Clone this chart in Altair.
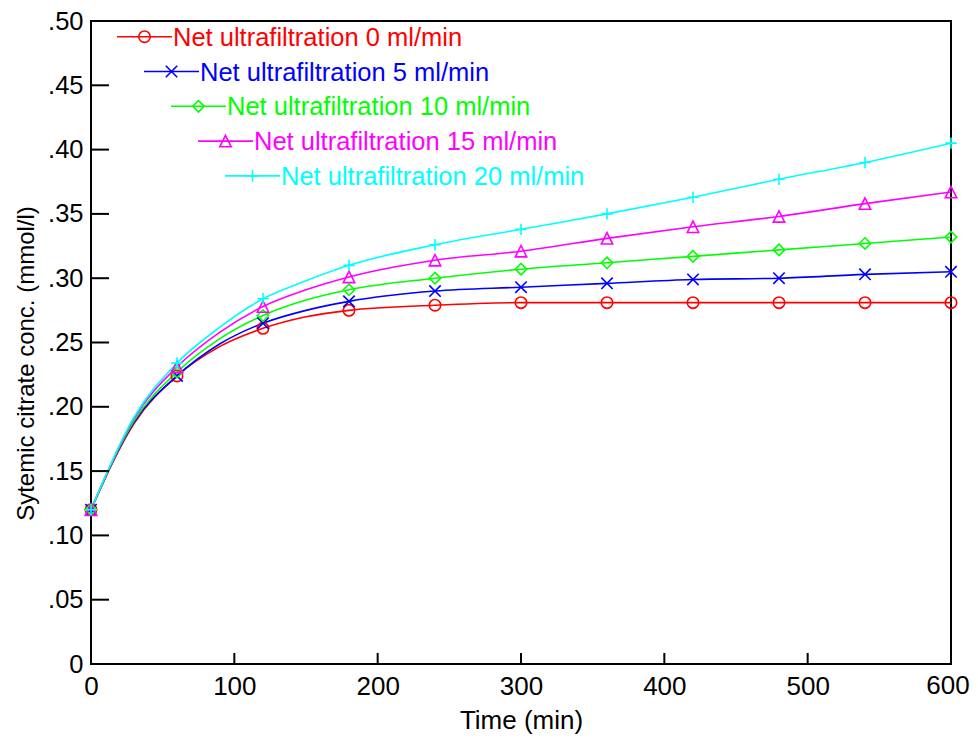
import altair as alt
import pandas as pd

# ---- data ----
time = [0, 30, 60, 90, 120, 150, 180, 240, 300, 360, 420, 480, 540, 600]
uf0 = [0.120, 0.187, 0.224, 0.247, 0.261, 0.270, 0.275, 0.279, 0.281, 0.281, 0.281, 0.281, 0.281, 0.281]
uf5 = [0.120, 0.188, 0.224, 0.249, 0.265, 0.275, 0.282, 0.290, 0.293, 0.296, 0.299, 0.300, 0.303, 0.305]
uf10 = [0.120, 0.189, 0.227, 0.253, 0.271, 0.283, 0.291, 0.300, 0.307, 0.312, 0.317, 0.322, 0.327, 0.332]
uf15 = [0.120, 0.191, 0.231, 0.258, 0.278, 0.291, 0.301, 0.314, 0.321, 0.331, 0.340, 0.348, 0.358, 0.367]
uf20 = [0.120, 0.192, 0.234, 0.262, 0.284, 0.298, 0.310, 0.326, 0.338, 0.350, 0.363, 0.377, 0.390, 0.405]

labels = [
    "Net ultrafiltration 0 ml/min",
    "Net ultrafiltration 5 ml/min",
    "Net ultrafiltration 10 ml/min",
    "Net ultrafiltration 15 ml/min",
    "Net ultrafiltration 20 ml/min",
]
series_values = [uf0, uf5, uf10, uf15, uf20]
colors = ["#FF0000", "#0000FF", "#00FF00", "#FF00FF", "#00FFFF"]
shapes = ["circle", "M-1,-1L1,1M-1,1L1,-1", "diamond", "M0,-1L1,1L-1,1Z", "M-1,0L1,0M0,-1L0,1"]
sizes = [130, 130, 210, 95, 130]

x_ticks = [0, 100, 200, 300, 400, 500, 600]
y_ticks = [0, 0.05, 0.10, 0.15, 0.20, 0.25, 0.30, 0.35, 0.40, 0.45, 0.50]

W, H = 860, 643
FONT = "Liberation Sans"

rows = []
for lab, vals in zip(labels, series_values):
    for t, v in zip(time, vals):
        rows.append({"t": t, "c": v, "s": lab})
df = pd.DataFrame(rows)

color_scale = alt.Scale(domain=labels, range=colors)
shape_scale = alt.Scale(domain=labels, range=shapes)
size_scale = alt.Scale(domain=labels, range=sizes)

xs = alt.Scale(domain=[0, 600], nice=False, zero=False)
ys = alt.Scale(domain=[0, 0.5], nice=False)

x_axis = alt.Axis(
    values=x_ticks, tickSize=0, domain=False, grid=False, labelFlush=False,
    labelExpr="datum.value == 600 ? '' : datum.label",
    labelFont=FONT, labelFontSize=26, labelColor="black", labelPadding=9,
    title="Time (min)", titleFont=FONT, titleFontSize=26, titleFontWeight="normal",
    titleColor="black", titleBaseline="alphabetic", titleY=64,
)
y_axis = alt.Axis(
    values=y_ticks, tickSize=0, domain=False, grid=False, labelFlush=False,
    labelFont=FONT, labelFontSize=25.5, labelColor="black", labelPadding=8,
    labelExpr="datum.value == 0 ? '0' : slice(format(datum.value, '.2f'), 1)",
    title="Sytemic citrate conc. (mmol/l)", titleFont=FONT, titleFontSize=24,
    titleFontWeight="normal", titleColor="black", titleBaseline="alphabetic",
    titleX=-58, titleY=342,
)

base = alt.Chart(df)
lines = base.mark_line(interpolate="monotone", strokeWidth=1.6).encode(
    x=alt.X("t:Q", scale=xs, axis=x_axis),
    y=alt.Y("c:Q", scale=ys, axis=y_axis),
    color=alt.Color("s:N", scale=color_scale, legend=None),
    detail="s:N",
)
points = base.transform_filter("datum.t % 60 == 0").mark_point(filled=False, strokeWidth=1.6, opacity=1).encode(
    x=alt.X("t:Q", scale=xs),
    y=alt.Y("c:Q", scale=ys),
    color=alt.Color("s:N", scale=color_scale, legend=None),
    shape=alt.Shape("s:N", scale=shape_scale, legend=None),
    size=alt.Size("s:N", scale=size_scale, legend=None),
)

tick_df = pd.DataFrame({"v": x_ticks})
xt = alt.Chart(tick_df).mark_rule(color="black", strokeWidth=2).encode(
    x=alt.X("v:Q", scale=xs), y=alt.value(H), y2=alt.value(H - 11)
)
# last x label drawn separately, nudged left so it stays inside the page
last_lab = alt.Chart(tick_df).transform_filter("datum.v == 600").mark_text(
    align="center", baseline="top", font=FONT, fontSize=26, color="black", dx=-3
).encode(x=alt.X("v:Q", scale=xs), y=alt.value(H + 9), text=alt.Text("v:Q"))

yt = alt.Chart(pd.DataFrame({"v": y_ticks})).mark_rule(color="black", strokeWidth=2).encode(
    y=alt.Y("v:Q", scale=ys), x=alt.value(0), x2=alt.value(18)
)

# legend (staggered, inside plot)
leg = pd.DataFrame({
    "s": labels,
    "i": list(range(len(labels))),
})
leg["x1"] = 26 + 27 * leg["i"]
leg["x2"] = 81 + 27 * leg["i"]
leg["xm"] = 53.5 + 27 * leg["i"]
leg["xt"] = 82 + 27 * leg["i"]
leg["y"] = 15.7 + 34.8 * leg["i"]
lb = alt.Chart(leg)
leg_lines = lb.mark_rule(strokeWidth=1.6).encode(
    x=alt.X("x1:Q", scale=None, axis=None), x2="x2:Q",
    y=alt.Y("y:Q", scale=None, axis=None),
    color=alt.Color("s:N", scale=color_scale, legend=None),
)
leg_pts = lb.mark_point(filled=False, strokeWidth=1.6, opacity=1).encode(
    x=alt.X("xm:Q", scale=None, axis=None),
    y=alt.Y("y:Q", scale=None, axis=None),
    color=alt.Color("s:N", scale=color_scale, legend=None),
    shape=alt.Shape("s:N", scale=shape_scale, legend=None),
    size=alt.Size("s:N", scale=size_scale, legend=None),
)
leg_txt = lb.mark_text(align="left", baseline="middle", font=FONT, fontSize=25.5, dy=1).encode(
    x=alt.X("xt:Q", scale=None, axis=None),
    y=alt.Y("y:Q", scale=None, axis=None),
    text="s:N",
    color=alt.Color("s:N", scale=color_scale, legend=None),
)

chart = alt.layer(lines, points, xt, last_lab, yt, leg_lines, leg_pts, leg_txt).properties(
    width=W, height=H,
    autosize=alt.AutoSizeParams(type="none"),
    padding={"left": 83, "top": 13, "right": 19, "bottom": 70},
    background="white",
).configure_view(stroke="black", strokeWidth=2)

chart.save("out.html", embed_options={"renderer": "svg", "actions": False})
